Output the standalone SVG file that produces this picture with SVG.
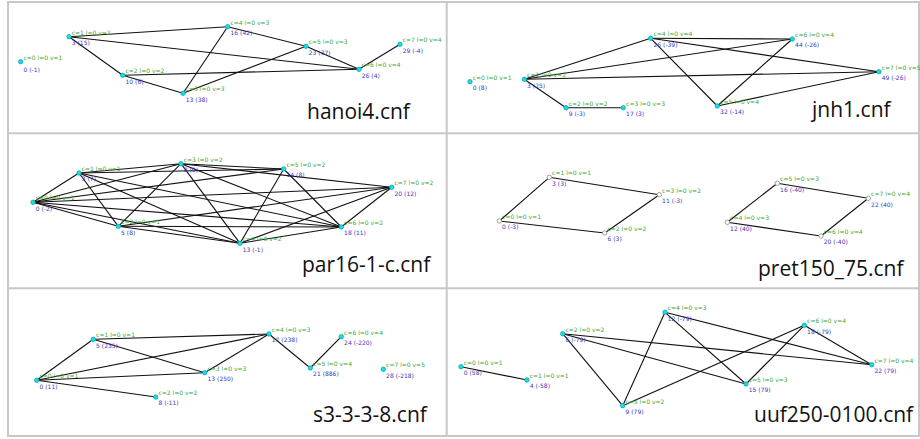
<svg xmlns="http://www.w3.org/2000/svg" width="920" height="439" viewBox="0 0 920 439">
  <style>
    .frame { fill: none; stroke: #c8c8c8; stroke-width: 2; }
    .edge { stroke: #111; stroke-width: 1.1; fill: none; }
    .nd { fill: #14e0e6; stroke: #0aa6b0; stroke-width: 0.8; }
    .nd.hollow { fill: #fff; stroke: #888; }
    .cl { font-family: "DejaVu Sans", sans-serif; font-size: 6px; fill: #3aa83a; }
    .vl { font-family: "DejaVu Sans", sans-serif; font-size: 6px; fill: #3b3bbb; }
    .title { font-family: "Open Sans", "Liberation Sans", sans-serif; font-size: 21px; fill: #111; }
  </style>

  <!-- table frame -->
  <g id="frame">
    <rect class="frame" x="8" y="2" width="911" height="434"/>
    <line class="frame" x1="8" y1="133.3" x2="919" y2="133.3"/>
    <line class="frame" x1="8" y1="288.3" x2="919" y2="288.3"/>
    <line class="frame" x1="446.7" y1="2" x2="446.7" y2="436"/>
  </g>

  <!-- ===== hanoi4.cnf ===== -->
  <g id="hanoi4">
    <text class="title" x="307" y="119">hanoi4.cnf</text>
    <g id="hanoi4-edges">
      <line class="edge" x1="69" y1="36.7" x2="227.7" y2="26.7"/>
      <line class="edge" x1="69" y1="36.7" x2="359" y2="69.3"/>
      <line class="edge" x1="69" y1="36.7" x2="122.7" y2="75.3"/>
      <line class="edge" x1="122.7" y1="75.3" x2="183" y2="93.3"/>
      <line class="edge" x1="122.7" y1="75.3" x2="359" y2="69.3"/>
      <line class="edge" x1="183" y1="93.3" x2="227.7" y2="26.7"/>
      <line class="edge" x1="183" y1="93.3" x2="306" y2="46.3"/>
      <line class="edge" x1="227.7" y1="26.7" x2="306" y2="46.3"/>
      <line class="edge" x1="306" y1="46.3" x2="359" y2="69.3"/>
      <line class="edge" x1="359" y1="69.3" x2="400" y2="44.3"/>
    </g>
    <g id="hanoi4-c0"><circle class="nd" cx="20.7" cy="61.7" r="2.2"/><text class="cl" x="23.5" y="59.5">c=0 l=0 v=1</text><text class="vl" x="23.5" y="72">0 (-1)</text></g>
    <g id="hanoi4-c1"><circle class="nd" cx="69" cy="36.7" r="2.2"/><text class="cl" x="71.8" y="34.5">c=1 l=0 v=2</text><text class="vl" x="71.8" y="45">3 (15)</text></g>
    <g id="hanoi4-c2"><circle class="nd" cx="122.7" cy="75.3" r="2.2"/><text class="cl" x="125.5" y="73.3">c=2 l=0 v=2</text><text class="vl" x="125.5" y="83.5">10 (6)</text></g>
    <g id="hanoi4-c3"><circle class="nd" cx="183" cy="93.3" r="2.2"/><text class="cl" x="185.8" y="91.3">c=3 l=0 v=3</text><text class="vl" x="185.8" y="101.5">13 (38)</text></g>
    <g id="hanoi4-c4"><circle class="nd" cx="227.7" cy="26.7" r="2.2"/><text class="cl" x="230.5" y="24.7">c=4 l=0 v=3</text><text class="vl" x="230.5" y="34.9">16 (42)</text></g>
    <g id="hanoi4-c5"><circle class="nd" cx="306" cy="46.3" r="2.2"/><text class="cl" x="308.8" y="44.3">c=5 l=0 v=3</text><text class="vl" x="308.8" y="54.5">23 (37)</text></g>
    <g id="hanoi4-c6"><circle class="nd" cx="359" cy="69.3" r="2.2"/><text class="cl" x="361.8" y="67.3">c=6 l=0 v=4</text><text class="vl" x="361.8" y="77.5">26 (4)</text></g>
    <g id="hanoi4-c7"><circle class="nd" cx="400" cy="44.3" r="2.2"/><text class="cl" x="402.8" y="42.3">c=7 l=0 v=4</text><text class="vl" x="402.8" y="52.5">29 (-4)</text></g>
  </g>

  <!-- ===== jnh1.cnf ===== -->
  <g id="jnh1">
    <text class="title" x="812" y="117">jnh1.cnf</text>
    <g id="jnh1-edges">
      <line class="edge" x1="524.3" y1="79.3" x2="566" y2="107.7"/>
      <line class="edge" x1="566" y1="107.7" x2="623.3" y2="107.7"/>
      <line class="edge" x1="524.3" y1="79.3" x2="650.7" y2="38.3"/>
      <line class="edge" x1="524.3" y1="79.3" x2="792.3" y2="39"/>
      <line class="edge" x1="524.3" y1="79.3" x2="879" y2="71.7"/>
      <line class="edge" x1="650.7" y1="38.3" x2="792.3" y2="39"/>
      <line class="edge" x1="650.7" y1="38.3" x2="879" y2="71.7"/>
      <line class="edge" x1="650.7" y1="38.3" x2="717.3" y2="106"/>
      <line class="edge" x1="717.3" y1="106" x2="792.3" y2="39"/>
      <line class="edge" x1="717.3" y1="106" x2="879" y2="71.7"/>
    </g>
    <g id="jnh1-c0"><circle class="nd" cx="470" cy="81.7" r="2.2"/><text class="cl" x="472.8" y="79.7">c=0 l=0 v=1</text><text class="vl" x="472.8" y="90">0 (8)</text></g>
    <g id="jnh1-c1"><circle class="nd" cx="524.3" cy="79.3" r="2.2"/><text class="cl" x="527.1" y="77.3">c=1 l=0 v=2</text><text class="vl" x="527.1" y="87.5">3 (25)</text></g>
    <g id="jnh1-c2"><circle class="nd" cx="566" cy="107.7" r="2.2"/><text class="cl" x="568.8" y="105.7">c=2 l=0 v=2</text><text class="vl" x="568.8" y="115.9">9 (-3)</text></g>
    <g id="jnh1-c3"><circle class="nd" cx="623.3" cy="107.7" r="2.2"/><text class="cl" x="626.1" y="105.7">c=3 l=0 v=3</text><text class="vl" x="626.1" y="115.9">17 (3)</text></g>
    <g id="jnh1-c4"><circle class="nd" cx="650.7" cy="38.3" r="2.2"/><text class="cl" x="653.5" y="36.3">c=4 l=0 v=4</text><text class="vl" x="653.5" y="46.5">26 (-39)</text></g>
    <g id="jnh1-c5"><circle class="nd" cx="717.3" cy="106" r="2.2"/><text class="cl" x="720.1" y="104">c=5 l=0 v=4</text><text class="vl" x="720.1" y="114.2">32 (-14)</text></g>
    <g id="jnh1-c6"><circle class="nd" cx="792.3" cy="39" r="2.2"/><text class="cl" x="795.1" y="37">c=6 l=0 v=4</text><text class="vl" x="795.1" y="47.2">44 (-26)</text></g>
    <g id="jnh1-c7"><circle class="nd" cx="879" cy="71.7" r="2.2"/><text class="cl" x="881.8" y="69.7">c=7 l=0 v=5</text><text class="vl" x="881.8" y="79.9">49 (-26)</text></g>
  </g>

  <!-- ===== par16-1-c.cnf ===== -->
  <g id="par16">
    <text class="title" x="302" y="272">par16-1-c.cnf</text>
    <g id="par16-edges">
      <line class="edge" x1="33" y1="202.3" x2="79" y2="173"/>
      <line class="edge" x1="33" y1="202.3" x2="118.3" y2="226.3"/>
      <line class="edge" x1="33" y1="202.3" x2="181" y2="163.7"/>
      <line class="edge" x1="33" y1="202.3" x2="283.7" y2="169"/>
      <line class="edge" x1="33" y1="202.3" x2="391.7" y2="187.3"/>
      <line class="edge" x1="33" y1="202.3" x2="341.3" y2="227"/>
      <line class="edge" x1="33" y1="202.3" x2="240" y2="243.3"/>
      <line class="edge" x1="79" y1="173" x2="118.3" y2="226.3"/>
      <line class="edge" x1="79" y1="173" x2="181" y2="163.7"/>
      <line class="edge" x1="79" y1="173" x2="283.7" y2="169"/>
      <line class="edge" x1="79" y1="173" x2="341.3" y2="227"/>
      <line class="edge" x1="79" y1="173" x2="240" y2="243.3"/>
      <line class="edge" x1="118.3" y1="226.3" x2="181" y2="163.7"/>
      <line class="edge" x1="118.3" y1="226.3" x2="391.7" y2="187.3"/>
      <line class="edge" x1="118.3" y1="226.3" x2="341.3" y2="227"/>
      <line class="edge" x1="118.3" y1="226.3" x2="240" y2="243.3"/>
      <line class="edge" x1="181" y1="163.7" x2="283.7" y2="169"/>
      <line class="edge" x1="181" y1="163.7" x2="391.7" y2="187.3"/>
      <line class="edge" x1="181" y1="163.7" x2="341.3" y2="227"/>
      <line class="edge" x1="181" y1="163.7" x2="240" y2="243.3"/>
      <line class="edge" x1="283.7" y1="169" x2="240" y2="243.3"/>
      <line class="edge" x1="283.7" y1="169" x2="341.3" y2="227"/>
      <line class="edge" x1="391.7" y1="187.3" x2="341.3" y2="227"/>
      <line class="edge" x1="391.7" y1="187.3" x2="240" y2="243.3"/>
      <line class="edge" x1="341.3" y1="227" x2="240" y2="243.3"/>
    </g>
    <g id="par16-c0"><circle class="nd" cx="33" cy="202.3" r="2.2"/><text class="cl" x="35.8" y="200.3">c=0 l=0 v=1</text><text class="vl" x="35.8" y="210.5">0 (-2)</text></g>
    <g id="par16-c1"><circle class="nd" cx="79" cy="173" r="2.2"/><text class="cl" x="81.8" y="171">c=1 l=0 v=1</text><text class="vl" x="81.8" y="181.2">3 (7)</text></g>
    <g id="par16-c2"><circle class="nd" cx="118.3" cy="226.3" r="2.2"/><text class="cl" x="121.1" y="224.3">c=2 l=0 v=1</text><text class="vl" x="121.1" y="234.5">5 (8)</text></g>
    <g id="par16-c3"><circle class="nd" cx="181" cy="163.7" r="2.2"/><text class="cl" x="183.8" y="161.7">c=3 l=0 v=2</text><text class="vl" x="183.8" y="171.9">8 (9)</text></g>
    <g id="par16-c4"><circle class="nd" cx="240" cy="243.3" r="2.2"/><text class="cl" x="242.8" y="241.3">c=4 l=0 v=2</text><text class="vl" x="242.8" y="251.5">13 (-1)</text></g>
    <g id="par16-c5"><circle class="nd" cx="283.7" cy="169" r="2.2"/><text class="cl" x="286.5" y="167">c=5 l=0 v=2</text><text class="vl" x="286.5" y="177.2">14 (8)</text></g>
    <g id="par16-c6"><circle class="nd" cx="341.3" cy="227" r="2.2"/><text class="cl" x="344.1" y="225">c=6 l=0 v=2</text><text class="vl" x="344.1" y="235.2">18 (11)</text></g>
    <g id="par16-c7"><circle class="nd" cx="391.7" cy="187.3" r="2.2"/><text class="cl" x="394.5" y="185.3">c=7 l=0 v=2</text><text class="vl" x="394.5" y="195.5">20 (12)</text></g>
  </g>

  <!-- ===== pret150_75.cnf ===== -->
  <g id="pret150">
    <text class="title" x="758" y="275.5">pret150_75.cnf</text>
    <g id="pret150-edges">
      <line class="edge" x1="499.3" y1="221" x2="549.3" y2="177.3"/>
      <line class="edge" x1="549.3" y1="177.3" x2="659.3" y2="194.7"/>
      <line class="edge" x1="659.3" y1="194.7" x2="604.7" y2="233"/>
      <line class="edge" x1="604.7" y1="233" x2="499.3" y2="221"/>
      <line class="edge" x1="727.3" y1="222.3" x2="777.3" y2="183.3"/>
      <line class="edge" x1="777.3" y1="183.3" x2="868.3" y2="198.3"/>
      <line class="edge" x1="868.3" y1="198.3" x2="821" y2="236"/>
      <line class="edge" x1="821" y1="236" x2="727.3" y2="222.3"/>
    </g>
    <g id="pret150-c0"><circle class="nd hollow" cx="499.3" cy="221" r="2.2"/><text class="cl" x="502.1" y="219">c=0 l=0 v=1</text><text class="vl" x="502.1" y="229.2">0 (-3)</text></g>
    <g id="pret150-c1"><circle class="nd hollow" cx="549.3" cy="177.3" r="2.2"/><text class="cl" x="552.1" y="175.3">c=1 l=0 v=1</text><text class="vl" x="552.1" y="185.5">3 (3)</text></g>
    <g id="pret150-c2"><circle class="nd hollow" cx="604.7" cy="233" r="2.2"/><text class="cl" x="607.5" y="231">c=2 l=0 v=2</text><text class="vl" x="607.5" y="241.2">6 (3)</text></g>
    <g id="pret150-c3"><circle class="nd hollow" cx="659.3" cy="194.7" r="2.2"/><text class="cl" x="662.1" y="192.7">c=3 l=0 v=2</text><text class="vl" x="662.1" y="202.9">11 (-3)</text></g>
    <g id="pret150-c4"><circle class="nd hollow" cx="727.3" cy="222.3" r="2.2"/><text class="cl" x="730.1" y="220.3">c=4 l=0 v=3</text><text class="vl" x="730.1" y="230.5">12 (40)</text></g>
    <g id="pret150-c5"><circle class="nd hollow" cx="777.3" cy="183.3" r="2.2"/><text class="cl" x="780.1" y="181.3">c=5 l=0 v=3</text><text class="vl" x="780.1" y="191.5">16 (-40)</text></g>
    <g id="pret150-c6"><circle class="nd hollow" cx="821" cy="236" r="2.2"/><text class="cl" x="823.8" y="234">c=6 l=0 v=4</text><text class="vl" x="823.8" y="244.2">20 (-40)</text></g>
    <g id="pret150-c7"><circle class="nd hollow" cx="868.3" cy="198.3" r="2.2"/><text class="cl" x="871.1" y="196.3">c=7 l=0 v=4</text><text class="vl" x="871.1" y="206.5">22 (40)</text></g>
  </g>

  <!-- ===== s3-3-3-8.cnf ===== -->
  <g id="s3338">
    <text class="title" x="313" y="421.5">s3-3-3-8.cnf</text>
    <g id="s3338-edges">
      <line class="edge" x1="36.7" y1="380.3" x2="93.3" y2="339.3"/>
      <line class="edge" x1="36.7" y1="380.3" x2="155.7" y2="397"/>
      <line class="edge" x1="36.7" y1="380.3" x2="204.7" y2="372.7"/>
      <line class="edge" x1="36.7" y1="380.3" x2="269" y2="334"/>
      <line class="edge" x1="93.3" y1="339.3" x2="269" y2="334"/>
      <line class="edge" x1="93.3" y1="339.3" x2="204.7" y2="372.7"/>
      <line class="edge" x1="204.7" y1="372.7" x2="269" y2="334"/>
      <line class="edge" x1="269" y1="334" x2="310.3" y2="368"/>
      <line class="edge" x1="310.3" y1="368" x2="341.3" y2="336.7"/>
    </g>
    <g id="s3338-c0"><circle class="nd" cx="36.7" cy="380.3" r="2.2"/><text class="cl" x="39.5" y="378.3">c=0 l=0 v=1</text><text class="vl" x="39.5" y="388.5">0 (11)</text></g>
    <g id="s3338-c1"><circle class="nd" cx="93.3" cy="339.3" r="2.2"/><text class="cl" x="96.1" y="337.3">c=1 l=0 v=1</text><text class="vl" x="96.1" y="347.5">5 (235)</text></g>
    <g id="s3338-c2"><circle class="nd" cx="155.7" cy="397" r="2.2"/><text class="cl" x="158.5" y="395">c=2 l=0 v=2</text><text class="vl" x="158.5" y="405.2">8 (-11)</text></g>
    <g id="s3338-c3"><circle class="nd" cx="204.7" cy="372.7" r="2.2"/><text class="cl" x="207.5" y="370.7">c=3 l=0 v=3</text><text class="vl" x="207.5" y="380.9">13 (250)</text></g>
    <g id="s3338-c4"><circle class="nd" cx="269" cy="334" r="2.2"/><text class="cl" x="271.8" y="332">c=4 l=0 v=3</text><text class="vl" x="271.8" y="342.2">17 (238)</text></g>
    <g id="s3338-c5"><circle class="nd" cx="310.3" cy="368" r="2.2"/><text class="cl" x="313.1" y="366">c=5 l=0 v=4</text><text class="vl" x="313.1" y="376.2">21 (886)</text></g>
    <g id="s3338-c6"><circle class="nd" cx="341.3" cy="336.7" r="2.2"/><text class="cl" x="344.1" y="334.7">c=6 l=0 v=4</text><text class="vl" x="344.1" y="344.9">24 (-220)</text></g>
    <g id="s3338-c7"><circle class="nd" cx="383.3" cy="369.3" r="2.2"/><text class="cl" x="386.1" y="367.3">c=7 l=0 v=5</text><text class="vl" x="386.1" y="377.5">28 (-218)</text></g>
  </g>

  <!-- ===== uuf250-0100.cnf ===== -->
  <g id="uuf250">
    <text class="title" x="754" y="421.5">uuf250-0100.cnf</text>
    <g id="uuf250-edges">
      <line class="edge" x1="461" y1="366.7" x2="527" y2="380"/>
      <line class="edge" x1="562.7" y1="333.7" x2="622.7" y2="405.7"/>
      <line class="edge" x1="562.7" y1="333.7" x2="871.7" y2="364.7"/>
      <line class="edge" x1="562.7" y1="333.7" x2="746" y2="384"/>
      <line class="edge" x1="622.7" y1="405.7" x2="665" y2="312.3"/>
      <line class="edge" x1="622.7" y1="405.7" x2="804.3" y2="325.3"/>
      <line class="edge" x1="665" y1="312.3" x2="746" y2="384"/>
      <line class="edge" x1="665" y1="312.3" x2="871.7" y2="364.7"/>
      <line class="edge" x1="746" y1="384" x2="804.3" y2="325.3"/>
      <line class="edge" x1="804.3" y1="325.3" x2="871.7" y2="364.7"/>
    </g>
    <g id="uuf250-c0"><circle class="nd" cx="461" cy="366.7" r="2.2"/><text class="cl" x="463.8" y="364.7">c=0 l=0 v=1</text><text class="vl" x="463.8" y="374.9">0 (58)</text></g>
    <g id="uuf250-c1"><circle class="nd" cx="527" cy="380" r="2.2"/><text class="cl" x="529.8" y="378">c=1 l=0 v=1</text><text class="vl" x="529.8" y="388.2">4 (-58)</text></g>
    <g id="uuf250-c2"><circle class="nd" cx="562.7" cy="333.7" r="2.2"/><text class="cl" x="565.5" y="331.7">c=2 l=0 v=2</text><text class="vl" x="565.5" y="341.9">6 (-79)</text></g>
    <g id="uuf250-c3"><circle class="nd" cx="622.7" cy="405.7" r="2.2"/><text class="cl" x="625.5" y="403.7">c=3 l=0 v=2</text><text class="vl" x="625.5" y="413.9">9 (79)</text></g>
    <g id="uuf250-c4"><circle class="nd" cx="665" cy="312.3" r="2.2"/><text class="cl" x="667.8" y="310.3">c=4 l=0 v=3</text><text class="vl" x="667.8" y="320.5">12 (-79)</text></g>
    <g id="uuf250-c5"><circle class="nd" cx="746" cy="384" r="2.2"/><text class="cl" x="748.8" y="382">c=5 l=0 v=3</text><text class="vl" x="748.8" y="392.2">15 (79)</text></g>
    <g id="uuf250-c6"><circle class="nd" cx="804.3" cy="325.3" r="2.2"/><text class="cl" x="807.1" y="323.3">c=6 l=0 v=4</text><text class="vl" x="807.1" y="333.5">18 (-79)</text></g>
    <g id="uuf250-c7"><circle class="nd" cx="871.7" cy="364.7" r="2.2"/><text class="cl" x="874.5" y="362.7">c=7 l=0 v=4</text><text class="vl" x="874.5" y="372.9">22 (79)</text></g>
  </g>
</svg>
